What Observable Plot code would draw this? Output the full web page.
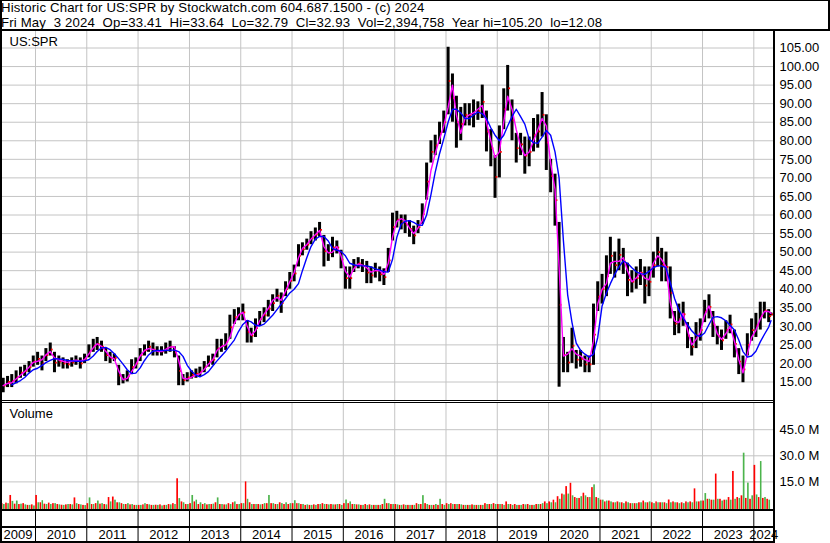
<!DOCTYPE html>
<html>
<head>
<meta charset="utf-8">
<script src="https://cdn.jsdelivr.net/npm/d3@7"></script>
<script src="https://cdn.jsdelivr.net/npm/@observablehq/plot@0.6"></script>
<style>
  html, body { margin: 0; padding: 0; background: #fff; }
  #chart { position: relative; width: 830px; height: 543px; overflow: hidden; background: #fff;
           font-family: "Liberation Sans", Arial, sans-serif; color: #000; }
  .pane { position: absolute; left: 0; }
  .pane svg { display: block; overflow: visible; }
  .ln { position: absolute; background: #000; }
  .hdr { position: absolute; left: 1px; white-space: pre; font-size: 13.2px; letter-spacing: 0.15px; line-height: 14.75px; height: 14.75px; }
</style>
</head>
<body>
<div id="chart"></div>
<script>
// ---------- text ----------
const headerLines = [
  "Historic Chart for US:SPR by Stockwatch.com 604.687.1500 - (c) 2024",
  "Fri May  3 2024  Op=33.41  Hi=33.64  Lo=32.79  Cl=32.93  Vol=2,394,758  Year hi=105.20  lo=12.08"
];
const ticker = "US:SPR";
const volumeLabel = "Volume";

// ---------- monthly data, May 2009 .. May 2024 ----------
const firstMonth = [2009, 4]; // year, zero-based month (May)
const lastDay = [2024, 4, 2];

const lo = [
  12.1, 13.5, 13.5, 14.5, 16.0, 16.5, 17.5, 19.0,
  19.5, 18.0, 20.5, 22.0, 17.5, 19.0, 18.5, 18.5, 19.0, 19.5, 18.5, 20.0,
  21.5, 23.0, 23.5, 23.0, 20.5, 20.0, 20.5, 14.0, 14.5, 15.0, 17.0, 18.5,
  20.5, 22.0, 23.0, 22.0, 22.0, 22.0, 22.5, 23.0, 21.5, 14.0, 14.0, 15.0,
  15.8, 16.0, 16.5, 17.5, 19.0, 19.5, 21.5, 23.0, 23.5, 26.5, 30.5, 31.5,
  31.5, 25.5, 25.5, 27.0, 30.0, 31.0, 32.5, 34.0, 36.5, 33.5, 38.0, 40.0,
  42.0, 46.0, 49.0, 50.5, 52.0, 53.0, 54.0, 46.0, 47.5, 48.5, 49.5, 45.5,
  40.0, 40.0, 44.5, 45.5, 44.5, 41.5, 41.5, 43.0, 42.0, 41.0, 44.5, 53.0,
  56.5, 56.0, 55.0, 54.0, 52.0, 55.0, 57.5, 64.0, 74.0, 76.0, 79.0, 82.0,
  87.0, 85.0, 78.0, 80.0, 84.0, 84.0, 83.5, 85.5, 86.0, 77.0, 73.0, 64.5,
  70.0, 83.0, 88.0, 80.0, 74.0, 76.0, 71.0, 73.0, 77.0, 78.0, 81.0, 72.0,
  66.0, 57.0, 13.6, 17.5, 17.5, 20.0, 18.5, 19.0, 17.5, 17.5, 19.5, 34.0,
  36.0, 38.0, 44.0, 43.0, 45.0, 44.0, 38.0, 39.0, 40.0, 41.0, 36.0, 38.0,
  43.0, 46.0, 42.0, 42.0, 32.0, 27.5, 28.0, 30.0, 24.0, 22.0, 24.0, 26.0,
  31.0, 32.0, 27.0, 25.0, 23.5, 26.5, 28.0, 21.5, 17.0, 14.8, 22.0, 26.0,
  27.0, 29.0, 32.0, 31.0, 32.8
];
const hi = [
  16.0, 16.5, 17.0, 18.0, 19.0, 19.5, 20.5, 22.0,
  23.0, 22.0, 24.0, 25.5, 23.0, 22.0, 21.5, 21.0, 21.5, 22.0, 21.5, 22.5,
  25.0, 26.5, 27.0, 26.0, 24.0, 23.0, 22.5, 19.5, 17.0, 18.0, 21.0, 21.5,
  24.0, 25.0, 26.0, 25.5, 24.5, 24.5, 25.5, 26.0, 24.5, 22.0, 17.0, 17.5,
  18.0, 18.5, 19.0, 20.5, 22.0, 22.5, 26.5, 26.5, 28.0, 33.0, 34.5, 35.0,
  36.0, 31.5, 29.5, 32.0, 34.0, 35.0, 37.0, 38.5, 40.0, 39.0, 42.0, 44.5,
  46.5, 52.0, 52.5, 53.5, 55.5, 56.5, 58.0, 54.5, 52.0, 54.0, 53.0, 50.5,
  46.0, 46.0, 48.0, 48.5, 48.0, 47.5, 46.0, 47.0, 46.0, 45.5, 51.0, 60.5,
  61.0, 60.0, 60.0, 58.5, 57.0, 58.5, 63.0, 74.0, 80.0, 81.5, 85.0, 88.0,
  105.2, 98.0, 92.0, 89.0, 90.0, 90.0, 91.0, 90.5, 95.0, 88.0, 83.0, 76.0,
  84.0, 94.0, 100.3, 91.0, 82.0, 82.0, 81.0, 81.0, 86.0, 87.0, 93.0, 87.0,
  75.0, 71.0, 58.0, 27.0, 23.0, 29.5, 23.5, 23.5, 22.0, 22.0, 36.0, 42.0,
  44.0, 49.0, 54.0, 50.0, 53.5, 51.0, 47.0, 45.0, 46.0, 48.0, 46.0, 46.0,
  50.0, 54.0, 51.0, 50.0, 46.0, 34.0, 36.0, 36.5, 31.0, 27.0, 31.0, 32.0,
  37.0, 38.5, 34.0, 30.0, 29.0, 31.5, 33.0, 29.0, 24.0, 22.0, 28.0, 32.0,
  33.5, 36.5, 36.5, 34.5, 33.6
];
const pink = [
  14.0, 14.6, 14.8, 15.8, 16.8, 17.8, 19.0, 20.3,
  20.6, 21.0, 22.3, 23.2, 21.5, 21.0, 20.6, 20.3, 20.6, 20.9, 20.6, 21.0,
  22.6, 24.2, 25.3, 24.6, 23.3, 21.8, 21.2, 18.0, 15.6, 16.0, 17.8, 19.6,
  22.0, 23.5, 24.0, 23.8, 23.3, 23.2, 23.8, 24.4, 24.5, 20.8, 16.0, 15.8,
  16.3, 16.8, 17.2, 18.4, 19.8, 21.0, 23.5, 24.5, 25.0, 27.0, 30.8, 33.0,
  33.8, 30.0, 27.6, 28.8, 31.5, 33.3, 34.8, 37.0, 37.8, 37.0, 39.5, 42.0,
  44.5, 48.5, 51.0, 52.0, 53.5, 54.7, 55.8, 51.5, 49.8, 50.0, 51.5, 49.0,
  44.8, 43.3, 45.5, 46.8, 46.5, 45.8, 44.6, 45.0, 45.0, 44.0, 47.0, 54.0,
  58.3, 59.0, 58.5, 56.5, 55.0, 56.5, 58.5, 64.0, 72.0, 76.5, 80.5, 84.0,
  89.0, 95.0, 87.0, 82.0, 86.0, 87.0, 87.5, 88.5, 89.5, 85.0, 80.0, 75.5,
  77.0, 85.0, 92.0, 88.5, 83.0, 78.5, 76.0, 77.0, 80.0, 83.0, 86.0, 84.0,
  74.0, 67.0, 46.0, 22.0, 22.5, 24.0, 22.5, 22.0, 21.0, 20.5, 26.0, 36.0,
  40.0, 41.5, 47.0, 47.5, 47.5, 48.5, 45.0, 42.0, 43.0, 44.5, 43.0, 42.5,
  47.0, 49.0, 48.0, 46.0, 36.5, 31.5, 31.0, 33.5, 29.0, 25.0, 26.5, 28.3,
  33.0, 35.5, 32.0, 28.0, 26.5, 28.0, 30.0, 26.0, 21.0, 17.5, 22.5, 27.0,
  29.0, 32.0, 34.0, 34.0, 33.5
];
const blue = [
  null, null, 14.2, 14.8, 15.4, 16.2, 17.4, 18.3,
  18.7, 19.5, 20.2, 20.8, 21.3, 21.2, 21.1, 20.8, 20.7, 20.6, 20.6, 20.7,
  21.0, 22.0, 23.2, 24.2, 24.3, 23.7, 22.6, 21.3, 19.8, 18.3, 17.3, 17.4,
  18.8, 20.8, 22.3, 23.3, 23.5, 23.5, 23.5, 23.6, 23.6, 23.2, 21.9, 19.5,
  17.9, 16.8, 16.4, 17.0, 17.8, 19.3, 20.7, 22.0, 23.3, 24.8, 26.3, 28.6,
  30.5, 31.6, 31.2, 30.3, 30.1, 30.6, 31.8, 33.0, 34.5, 36.0, 37.5, 39.0,
  40.0, 41.5, 45.0, 48.5, 51.5, 53.5, 54.2, 54.2, 53.0, 51.0, 50.5, 50.2,
  49.0, 47.0, 46.6, 46.3, 46.3, 46.3, 46.0, 45.5, 45.2, 44.7, 44.6, 48.0,
  54.0, 57.5, 58.3, 58.5, 58.0, 57.3, 57.2, 60.0, 65.5, 71.5, 76.5, 80.5,
  85.0, 88.5, 88.5, 87.5, 86.0, 86.0, 87.0, 87.7, 87.3, 86.0, 83.5, 81.5,
  80.0, 81.5, 84.0, 86.5, 88.5, 86.5, 84.5, 80.5, 79.5, 79.3, 81.0, 82.8,
  81.5, 77.0, 70.0, 53.0, 38.5, 31.0, 25.5, 23.5, 22.5, 21.7, 22.5, 27.0,
  35.5, 39.0, 41.5, 44.0, 46.0, 47.6, 47.0, 45.8, 44.7, 44.2, 44.0, 44.8,
  45.8, 46.3, 46.3, 45.8, 41.8, 37.5, 34.5, 32.2, 30.5, 28.8, 27.6, 27.3,
  28.2, 30.5, 32.4, 32.6, 32.3, 31.5, 30.3, 29.0, 26.3, 23.2, 21.7, 22.0,
  23.3, 25.8, 27.8, 29.8, 31.5
];
// volume (millions): tallest down-day and up-day bar per month
const volRed = [
  2.5, 2.8, 7.2, 2.2, 2.0, 2.5, 1.5, 1.8,
  7.2, 3.0, 2.2, 2.8, 2.5, 2.0, 1.6, 1.8, 2.0, 5.8, 2.0, 1.5,
  2.5, 2.0, 2.5, 2.2, 2.0, 6.0, 6.3, 3.0, 2.5, 2.0, 1.8, 1.5,
  1.5, 1.8, 2.0, 1.5, 1.6, 1.8, 1.5, 2.0, 2.5, 16.8, 3.5, 2.0,
  2.5, 3.5, 2.0, 2.0, 1.8, 2.0, 3.0, 2.0, 1.8, 2.5, 3.0, 2.0,
  2.5, 15.0, 3.0, 2.0, 2.0, 2.0, 2.5, 2.5, 2.0, 3.0, 2.0, 2.0,
  2.5, 2.5, 2.0, 1.5, 1.5, 1.8, 2.0, 2.5, 2.0, 2.0, 1.8, 2.0,
  2.5, 2.5, 2.0, 1.8, 1.5, 2.0, 1.8, 1.5, 1.5, 2.0, 2.5, 2.0,
  2.0, 1.5, 1.8, 1.5, 1.5, 2.5, 2.0, 2.5, 1.5, 1.5, 1.5, 2.0,
  2.5, 2.5, 2.0, 2.0, 1.5, 1.5, 1.8, 1.5, 1.5, 2.5, 2.0, 2.5,
  2.0, 2.0, 3.5, 2.0, 2.0, 1.5, 2.0, 2.0, 1.5, 2.0, 2.0, 3.5,
  3.5, 4.5, 6.5, 8.0, 12.3, 14.2, 6.0, 5.5, 8.5, 6.0, 11.7, 6.0,
  4.5, 3.5, 4.0, 3.0, 3.5, 3.0, 3.5, 2.5, 2.5, 3.0, 4.0, 3.0,
  3.0, 3.5, 3.0, 3.0, 4.6, 3.5, 3.0, 3.0, 3.5, 3.5, 11.0, 3.5,
  4.0, 5.0, 4.5, 19.5, 5.0, 4.5, 6.0, 21.0, 6.0, 7.0, 5.5, 5.0,
  24.5, 6.0, 5.5, 5.0, 3.0
];
const volGreen = [
  2.0, 2.5, 3.8, 4.0, 2.2, 1.8, 1.5, 1.2,
  3.0, 4.2, 2.0, 2.0, 2.5, 1.8, 1.5, 2.0, 1.8, 2.5, 1.8, 1.4,
  5.8, 2.0, 4.0, 2.5, 1.8, 3.5, 4.5, 3.0, 2.0, 2.5, 2.0, 1.5,
  1.5, 2.5, 1.8, 1.5, 1.5, 1.2, 1.5, 1.8, 2.0, 5.4, 3.0, 2.0,
  7.2, 4.5, 3.0, 2.5, 2.0, 2.2, 5.8, 2.0, 1.8, 2.0, 3.5, 2.0,
  2.5, 5.0, 2.0, 2.0, 1.8, 2.5, 7.2, 2.5, 2.0, 2.5, 3.0, 2.5,
  4.2, 2.5, 2.0, 1.8, 1.5, 1.5, 2.0, 2.0, 1.8, 1.8, 2.0, 1.5,
  4.6, 3.5, 2.0, 1.8, 1.5, 1.5, 1.5, 1.5, 1.5, 5.0, 2.5, 2.0,
  1.8, 1.5, 1.5, 1.5, 1.5, 2.0, 7.1, 2.0, 1.5, 2.0, 5.0, 1.5,
  2.0, 2.0, 2.0, 1.8, 1.5, 1.5, 1.5, 1.5, 1.5, 2.0, 2.0, 2.0,
  2.0, 1.5, 2.0, 1.5, 1.5, 1.5, 1.8, 1.5, 1.5, 2.0, 2.5, 2.5,
  3.0, 3.0, 5.0, 7.5, 8.0, 7.0, 5.5, 6.5, 7.0, 6.0, 13.3, 5.5,
  4.5, 4.0, 3.5, 3.0, 3.0, 2.5, 3.0, 2.5, 2.5, 3.0, 3.0, 3.5,
  2.5, 3.0, 3.0, 2.5, 3.0, 3.0, 2.5, 2.5, 3.0, 3.0, 3.5, 4.0,
  8.3, 5.0, 4.5, 5.0, 4.0, 4.5, 4.5, 5.0, 5.5, 31.5, 14.3, 7.0,
  7.5, 26.7, 6.0, 4.5, 2.5
];
const priceTicks = [15, 20, 25, 30, 35, 40, 45, 50, 55, 60, 65, 70, 75, 80, 85, 90, 95, 100, 105];
const volTicks = [15, 30, 45];
const yearLabels = [2009, 2010, 2011, 2012, 2013, 2014, 2015, 2016, 2017, 2018, 2019, 2020, 2021, 2022, 2023, 2024];

// ---------- build rows ----------
const n = lo.length;
const rows = d3.range(n).map(i => {
  const start = new Date(firstMonth[0], firstMonth[1] + i, 1);
  let end = new Date(firstMonth[0], firstMonth[1] + i + 1, 1);
  let mid = new Date(firstMonth[0], firstMonth[1] + i, 16);
  if (i === n - 1) { end = new Date(lastDay[0], lastDay[1], lastDay[2] + 1); mid = new Date(lastDay[0], lastDay[1], lastDay[2]); }
  const half = new Date((+start + +end) / 2);
  return {start, end, mid, half, lo: lo[i], hi: hi[i], pink: pink[i], blue: blue[i],
          red: volRed[i], green: volGreen[i]};
});

const xDef = {type: "time", domain: [new Date(2010, 0, 1), new Date(2024, 0, 1)], range: [35, 753.3]};
const xs = Plot.scale({x: xDef});
const x0 = xs.invert(0), x1 = xs.invert(773);
const yearStarts = yearLabels.slice(1).map(y => new Date(y, 0, 1));
const labelRows = yearLabels.map(y => {
  const a = Math.max(+new Date(y, 0, 1), +x0), b = Math.min(+new Date(y + 1, 0, 1), +x1);
  return {date: new Date((a + b) / 2), label: String(y)};
});

const font = "'Liberation Sans', Arial, sans-serif";
const grid = "#c4c4c4";
const chart = document.getElementById("chart");

function place(svg, top) {
  const d = document.createElement("div");
  d.className = "pane";
  d.style.top = top + "px";
  d.appendChild(svg);
  chart.appendChild(d);
}

// ---------- price panel (image y 31..400) ----------
const price = Plot.plot({
  width: 830, height: 369,
  marginLeft: 2, marginRight: 57, marginTop: 0, marginBottom: 0,
  style: {fontFamily: font, fontSize: "13px", color: "#000", background: "transparent", overflow: "visible"},
  x: {...xDef, axis: null},
  y: {domain: [15, 105], range: [350.5, 16.5], axis: null},
  marks: [
    Plot.ruleY(priceTicks, {stroke: grid, strokeWidth: 1}),
    Plot.ruleX(yearStarts, {stroke: grid, strokeWidth: 1}),
    Plot.ruleX(rows, {x: "mid", y1: "lo", y2: "hi", stroke: "#000", strokeWidth: 3, clip: true}),
    Plot.dot(rows, {x: "mid", y: d => (d.lo + d.hi) / 2, r: 1, symbol: "square", fill: "#ff0000", dx: 1.5, clip: true}),
    Plot.line(rows, {x: "mid", y: "pink", stroke: "#ff00ff", strokeWidth: 1.4, clip: true}),
    Plot.line(rows, {x: "mid", y: "blue", stroke: "#0000ff", strokeWidth: 1.4, clip: true}),
    Plot.axisY({anchor: "right", ticks: priceTicks, tickSize: 0, tickPadding: 6, tickFormat: d => d.toFixed(2), label: null, fill: "#000"}),
    Plot.text([ticker], {frameAnchor: "top-left", dx: 7, dy: 5, fontSize: 13, fill: "#000"})
  ]
});
place(price, 31);

// ---------- volume panel (image y 403..509) ----------
const volume = Plot.plot({
  width: 830, height: 106,
  marginLeft: 2, marginRight: 57, marginTop: 0, marginBottom: 0,
  style: {fontFamily: font, fontSize: "13px", color: "#000", background: "transparent", overflow: "visible"},
  x: {...xDef, axis: null},
  y: {domain: [0, 45], range: [104.5, 26.2], axis: null},
  marks: [
    Plot.ruleY(volTicks, {stroke: grid, strokeWidth: 1}),
    Plot.ruleX(yearStarts, {stroke: grid, strokeWidth: 1}),
    Plot.rectY(rows, {x1: "start", x2: "half", y: "red", fill: "#ff0000", insetLeft: 0.25, insetRight: 0.25, insetBottom: -2}),
    Plot.rectY(rows, {x1: "half", x2: "end", y: "green", fill: "#4cb44c", insetLeft: 0.25, insetRight: 0.25, insetBottom: -2}),
    Plot.axisY({anchor: "right", ticks: volTicks, tickSize: 0, tickPadding: 6, tickFormat: d => d.toFixed(1) + " M", label: null, fill: "#000"}),
    Plot.text([volumeLabel], {frameAnchor: "top-left", dx: 7, dy: 5, fontSize: 13, fill: "#000"})
  ]
});
place(volume, 403);

// ---------- date axis (image y 509..543) ----------
const axis = Plot.plot({
  width: 830, height: 34,
  marginLeft: 2, marginRight: 57, marginTop: 0, marginBottom: 0,
  style: {fontFamily: font, fontSize: "13px", color: "#000", background: "transparent", overflow: "visible"},
  x: {...xDef, axis: null},
  marks: [
    Plot.ruleX(yearStarts, {stroke: "#000", strokeWidth: 1}),
    Plot.text(labelRows, {x: "date", text: "label", frameAnchor: "top", dy: 20.5, fontSize: 13, fill: "#000"})
  ]
});
place(axis, 509);

// ---------- header text ----------
headerLines.forEach((t, i) => {
  const d = document.createElement("div");
  d.className = "hdr";
  d.style.top = (1.1 + i * 14.8) + "px";
  d.textContent = t;
  chart.appendChild(d);
});

// ---------- frame lines ----------
const lines = [
  [0, 0, 830, 1],       // top
  [0, 29, 830, 2],      // header bottom
  [828, 0, 2, 31],      // header right
  [0, 0, 2, 543],       // left
  [773, 29, 2, 514],    // plot right
  [0, 400, 775, 1],     // price bottom
  [0, 402, 775, 1],     // volume top
  [0, 509, 775, 2],     // volume bottom
  [0, 526, 775, 2],     // axis middle
  [0, 541, 775, 2]      // bottom
];
lines.forEach(([l, t, w, h]) => {
  const d = document.createElement("div");
  d.className = "ln";
  Object.assign(d.style, {left: l + "px", top: t + "px", width: w + "px", height: h + "px"});
  chart.appendChild(d);
});
</script>
</body>
</html>
